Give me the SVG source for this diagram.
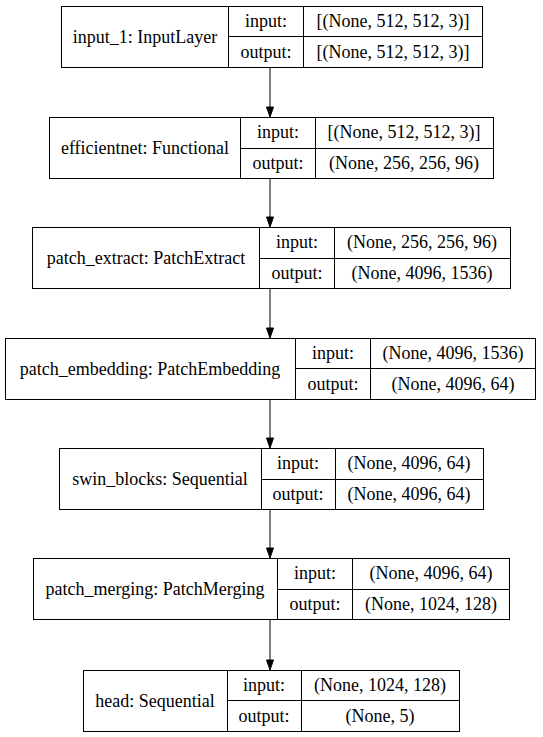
<svg xmlns="http://www.w3.org/2000/svg" width="543" height="737" viewBox="0 0 543 737">
<style>
rect.b{fill:none;stroke:#000;stroke-width:1}
line.d{stroke:#000;stroke-width:1}
text{font-family:"Liberation Serif","Times New Roman",serif;font-size:18px;fill:#000;text-anchor:middle}
.e line{stroke:#000;stroke-width:1}
.e polygon{fill:#000;stroke:#000;stroke-width:1}
</style>
<rect width="543" height="737" fill="#fff"/>
<g class="e" id="connectors">
<line x1="270" y1="67" x2="270" y2="107"/><polygon points="270,117 266.5,107 273.5,107"/>
<line x1="270" y1="178" x2="270" y2="217"/><polygon points="270,227 266.5,217 273.5,217"/>
<line x1="270" y1="288" x2="270" y2="328"/><polygon points="270,338 266.5,328 273.5,328"/>
<line x1="270" y1="399" x2="270" y2="438"/><polygon points="270,448 266.5,438 273.5,438"/>
<line x1="270" y1="509" x2="270" y2="548"/><polygon points="270,558 266.5,548 273.5,548"/>
<line x1="270" y1="619" x2="270" y2="660"/><polygon points="270,670 266.5,660 273.5,660"/>
</g>
<g id="input_1">
<rect class="b" x="61.5" y="6.5" width="421" height="61"/>
<line class="d" x1="228.5" y1="6.5" x2="228.5" y2="67.5"/>
<line class="d" x1="303.5" y1="6.5" x2="303.5" y2="67.5"/>
<line class="d" x1="228.5" y1="36.5" x2="482.5" y2="36.5"/>
<text x="145" y="43">input_1: InputLayer</text>
<text x="266" y="27">input:</text>
<text x="266" y="58">output:</text>
<text x="393" y="27">[(None, 512, 512, 3)]</text>
<text x="393" y="58">[(None, 512, 512, 3)]</text>
</g>
<g id="efficientnet">
<rect class="b" x="49.5" y="117.5" width="444" height="61"/>
<line class="d" x1="240.5" y1="117.5" x2="240.5" y2="178.5"/>
<line class="d" x1="315.5" y1="117.5" x2="315.5" y2="178.5"/>
<line class="d" x1="240.5" y1="148.5" x2="493.5" y2="148.5"/>
<text x="145" y="154">efficientnet: Functional</text>
<text x="278" y="138">input:</text>
<text x="278" y="169">output:</text>
<text x="404" y="138">[(None, 512, 512, 3)]</text>
<text x="404" y="169">(None, 256, 256, 96)</text>
</g>
<g id="patch_extract">
<rect class="b" x="32.5" y="227.5" width="478" height="61"/>
<line class="d" x1="259.5" y1="227.5" x2="259.5" y2="288.5"/>
<line class="d" x1="334.5" y1="227.5" x2="334.5" y2="288.5"/>
<line class="d" x1="259.5" y1="258.5" x2="510.5" y2="258.5"/>
<text x="146" y="264">patch_extract: PatchExtract</text>
<text x="297" y="248">input:</text>
<text x="297" y="279">output:</text>
<text x="422" y="248">(None, 256, 256, 96)</text>
<text x="422" y="279">(None, 4096, 1536)</text>
</g>
<g id="patch_embedding">
<rect class="b" x="5.5" y="338.5" width="530" height="61"/>
<line class="d" x1="295.5" y1="338.5" x2="295.5" y2="399.5"/>
<line class="d" x1="370.5" y1="338.5" x2="370.5" y2="399.5"/>
<line class="d" x1="295.5" y1="368.5" x2="535.5" y2="368.5"/>
<text x="150" y="375">patch_embedding: PatchEmbedding</text>
<text x="333" y="359">input:</text>
<text x="333" y="390">output:</text>
<text x="453" y="359">(None, 4096, 1536)</text>
<text x="453" y="390">(None, 4096, 64)</text>
</g>
<g id="swin_blocks">
<rect class="b" x="59.5" y="448.5" width="424" height="61"/>
<line class="d" x1="261.5" y1="448.5" x2="261.5" y2="509.5"/>
<line class="d" x1="335.5" y1="448.5" x2="335.5" y2="509.5"/>
<line class="d" x1="261.5" y1="479.5" x2="483.5" y2="479.5"/>
<text x="160" y="485">swin_blocks: Sequential</text>
<text x="298" y="469">input:</text>
<text x="298" y="500">output:</text>
<text x="409" y="469">(None, 4096, 64)</text>
<text x="409" y="500">(None, 4096, 64)</text>
</g>
<g id="patch_merging">
<rect class="b" x="33.5" y="558.5" width="476" height="61"/>
<line class="d" x1="277.5" y1="558.5" x2="277.5" y2="619.5"/>
<line class="d" x1="352.5" y1="558.5" x2="352.5" y2="619.5"/>
<line class="d" x1="277.5" y1="589.5" x2="509.5" y2="589.5"/>
<text x="155" y="595">patch_merging: PatchMerging</text>
<text x="315" y="579">input:</text>
<text x="315" y="610">output:</text>
<text x="431" y="579">(None, 4096, 64)</text>
<text x="431" y="610">(None, 1024, 128)</text>
</g>
<g id="head">
<rect class="b" x="83.5" y="670.5" width="376" height="61"/>
<line class="d" x1="227.5" y1="670.5" x2="227.5" y2="731.5"/>
<line class="d" x1="301.5" y1="670.5" x2="301.5" y2="731.5"/>
<line class="d" x1="227.5" y1="700.5" x2="459.5" y2="700.5"/>
<text x="155" y="707">head: Sequential</text>
<text x="264" y="691">input:</text>
<text x="264" y="722">output:</text>
<text x="380" y="691">(None, 1024, 128)</text>
<text x="380" y="722">(None, 5)</text>
</g>
</svg>
